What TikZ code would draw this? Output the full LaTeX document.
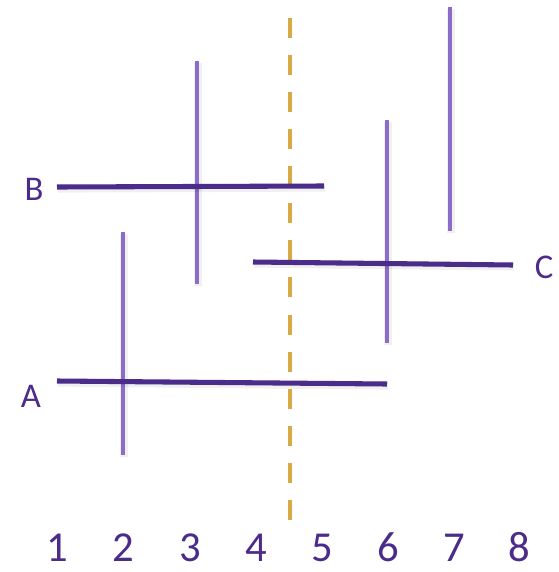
\documentclass[tikz,border=0pt]{standalone}
\usepackage{fontspec}
\setmainfont{Carlito}
\definecolor{hdark}{HTML}{4B2C8A}
\definecolor{vlight}{HTML}{8C6CCB}
\definecolor{gold}{HTML}{D8AA45}
\begin{document}
\begin{tikzpicture}[x=0.75pt,y=-0.75pt,
  shad/.style={preaction={draw=black,opacity=0.06,line width=6pt,transform canvas={shift={(0.8pt,-1.2pt)}}}},
  hline/.style={draw=hdark,line width=3.8pt,shad},
  vline/.style={draw=vlight,line width=3pt,shad},
  goldline/.style={draw=gold,line width=3.6pt,dash pattern=on 15pt off 12.8pt},
  num/.style={text=hdark,font=\fontsize{32}{32}\selectfont,inner sep=0pt,anchor=base,text depth=0pt},
  lab/.style={text=hdark,font=\fontsize{26}{26}\selectfont,inner sep=0pt}]
\useasboundingbox (0,0) rectangle (558,572);
% dashed
\coordinate (d1) at (290,18);
\coordinate (d2) at (290,521);
\draw[goldline] (d1) -- (d2);
% verticals
\coordinate (v3a) at (197,61); \coordinate (v3b) at (197,284);
\coordinate (v6a) at (387,120); \coordinate (v6b) at (387,343);
\coordinate (v7a) at (450,7); \coordinate (v7b) at (450,231);
\coordinate (v2a) at (123,232); \coordinate (v2b) at (123,455);
% horizontals
\coordinate (b1) at (57,187); \coordinate (b2) at (324,186);
\coordinate (c1) at (253,262); \coordinate (c2) at (513,265);
\coordinate (a1) at (57,381); \coordinate (a2) at (387,384);
\draw[vline] (v7a) -- (v7b);
\draw[vline] (v3a) -- (v3b);
\draw[vline] (v6a) -- (v6b);
\draw[vline] (v2a) -- (v2b);
\draw[hline] (b1) -- (b2);
\draw[hline] (c1) -- (c2);
\draw[hline] (a1) -- (a2);
% labels
\node[lab] (lB) at (34,189) {B};
\node[lab] (lC) at (544,267) {C};
\node[lab] (lA) at (31,396) {A};
\foreach \i/\x in {1/57,2/123,3/190,4/256,5/322,6/388,7/454,8/519}
  \node[num] (n\i) at (\x,561) {\i};
\end{tikzpicture}
\end{document}
